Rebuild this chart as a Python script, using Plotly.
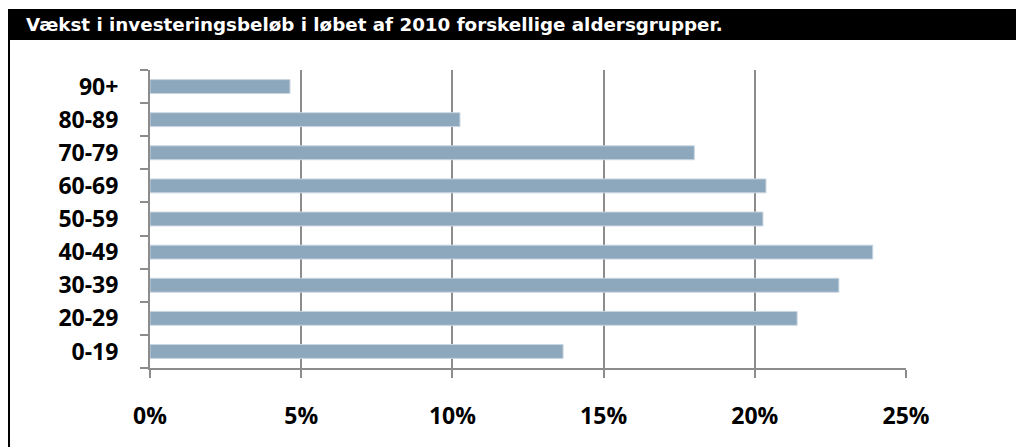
import plotly.graph_objects as go

# Data
age_groups = ["0-19", "20-29", "30-39", "40-49", "50-59", "60-69", "70-79", "80-89", "90+"]
growth = [0.1366, 0.214, 0.2278, 0.239, 0.2027, 0.2037, 0.180, 0.1025, 0.0463]
x_ticks = [0, 0.05, 0.10, 0.15, 0.20, 0.25]
x_tick_labels = ["0%", "5%", "10%", "15%", "20%", "25%"]
title_text = "Vækst i investeringsbeløb i løbet af 2010 forskellige aldersgrupper."

W, H = 1016, 447
L, R, T, B = 150, 110, 70, 79
pw, ph = W - L - R, H - T - B


def px_x(p):
    return (p - L) / pw


def px_y(p):
    return 1 - (p - T) / ph


tick_font = dict(family="Open Sans", size=23, color="black", weight="bold")

fig = go.Figure()
fig.add_trace(
    go.Bar(
        x=growth,
        y=age_groups,
        orientation="h",
        marker=dict(color="#8da7bd", line=dict(color="#c9d6e1", width=1)),
        hoverinfo="x+y",
    )
)

fig.update_layout(
    width=W,
    height=H,
    margin=dict(l=L, r=R, t=T, b=B),
    plot_bgcolor="white",
    paper_bgcolor="white",
    showlegend=False,
    bargap=0.58,
    font=dict(family="Open Sans", size=18, color="black"),
)

fig.update_xaxes(
    range=[0, 0.25],
    tickvals=x_ticks,
    ticktext=x_tick_labels,
    tickfont=tick_font,
    showgrid=True,
    gridcolor="#8c8c8c",
    gridwidth=2,
    showline=True,
    linecolor="#8c8c8c",
    linewidth=2,
    ticks="outside",
    ticklen=8,
    tickwidth=2,
    tickcolor="#8c8c8c",
    ticklabelstandoff=18,
    layer="above traces",
    zeroline=False,
    fixedrange=True,
)

fig.update_yaxes(
    categoryorder="array",
    categoryarray=age_groups,
    tickfont=tick_font,
    showline=True,
    linecolor="#8c8c8c",
    linewidth=2,
    ticks="outside",
    tickson="boundaries",
    ticklen=8,
    tickwidth=2,
    tickcolor="#8c8c8c",
    ticklabelstandoff=25,
    showgrid=False,
    layer="above traces",
    fixedrange=True,
)

# Black title bar and left frame line
fig.add_shape(
    type="rect", xref="paper", yref="paper",
    x0=px_x(8), x1=px_x(1016), y0=px_y(40), y1=px_y(9),
    fillcolor="black", line=dict(width=0), layer="above",
)
fig.add_shape(
    type="line", xref="paper", yref="paper",
    x0=px_x(9), x1=px_x(9), y0=px_y(40), y1=px_y(447),
    line=dict(color="black", width=2),
)
fig.add_annotation(
    text=title_text,
    xref="paper", yref="paper",
    x=px_x(24), y=px_y(25),
    xanchor="left", yanchor="middle",
    showarrow=False,
    font=dict(family="DejaVu Sans", size=18.3, color="white", weight="bold"),
)

# page without the default body margin so the figure fills the window
fig.write_html(
    "out.html",
    config={"displayModeBar": False},
    post_script="document.body.style.margin='0';document.body.style.overflow='hidden';",
)
